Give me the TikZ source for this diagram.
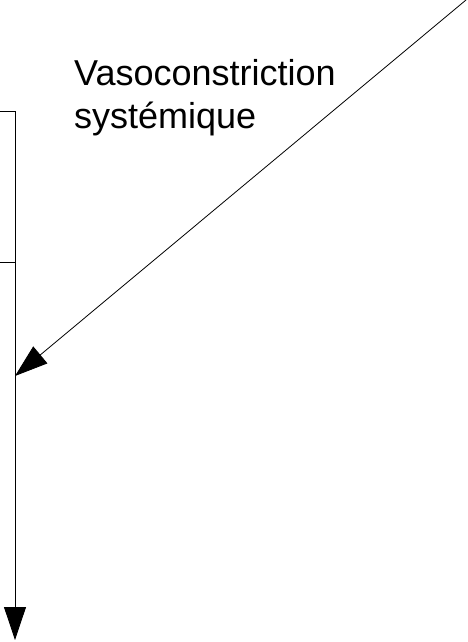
\documentclass[tikz,border=0pt]{standalone}
\usepackage{fontspec}
\setmainfont{Liberation Sans}
\usetikzlibrary{arrows.meta}
\begin{document}
\begin{tikzpicture}[x=1pt,y=1pt,
    flow/.style={-{Triangle[length=33pt,width=22pt]}, line width=0.8pt}]
  \useasboundingbox (0,0) rectangle (467,-642);
  \path
    (0,-111) coordinate (b0)
    (15,-111) coordinate (b1)
    (0,-262) coordinate (c0)
    (15,-262) coordinate (c1)
    (15,-640) coordinate (out)
    (466,0) coordinate (src)
    (15,-376) coordinate (hit);
  \node[anchor=base west, align=left, inner sep=0,
        font=\fontsize{36}{43}\selectfont] (vaso) at (74,-128)
    {Vasoconstriction\\systémique};
  \begin{scope}[line width=0.8pt]
    \draw (b0) -- (b1);
    \draw (c0) -- (c1);
  \end{scope}
  \draw[flow] (b1) -- (out);
  \draw[flow] (src) -- (hit);
\end{tikzpicture}
\end{document}
